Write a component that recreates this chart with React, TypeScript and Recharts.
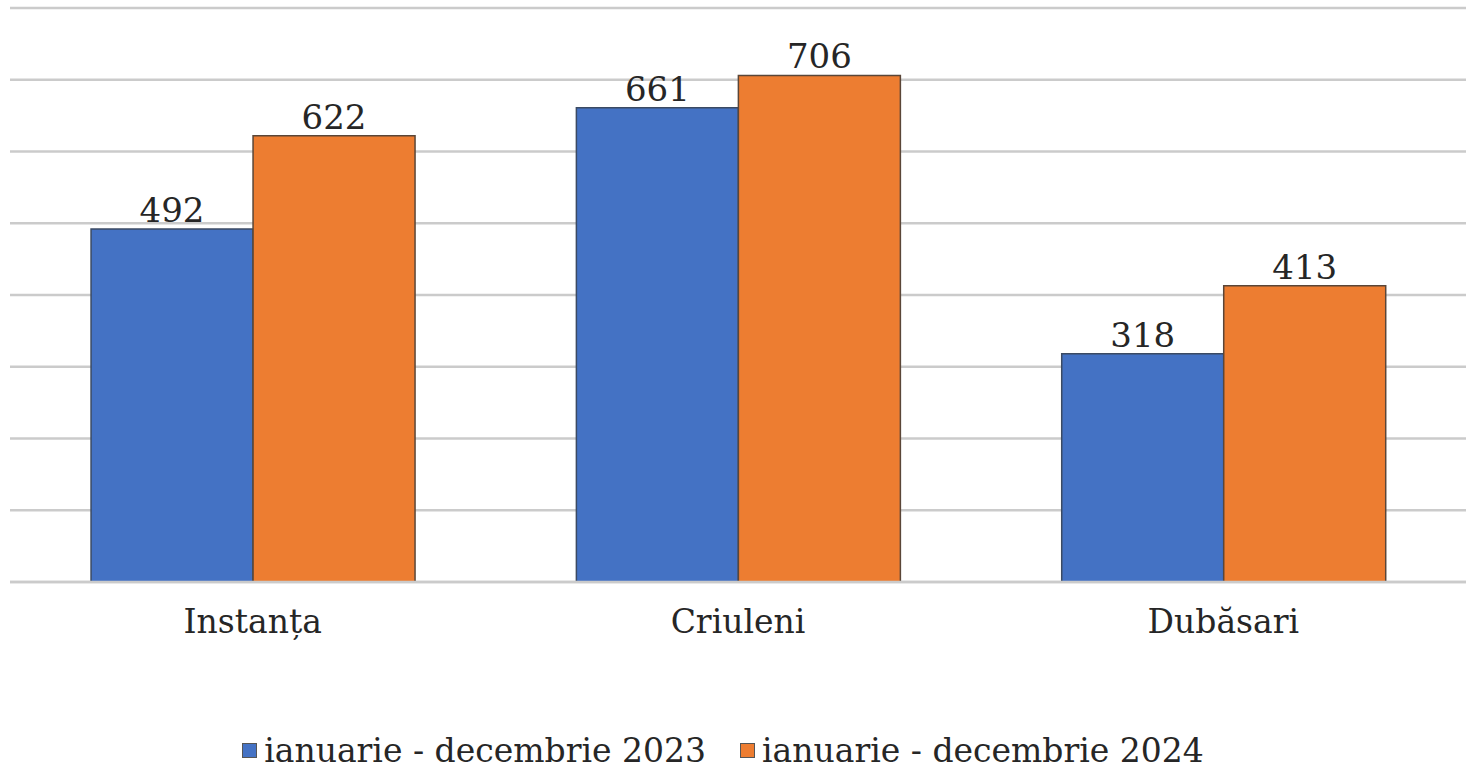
import React from 'react';
import { BarChart, Bar, XAxis, YAxis, CartesianGrid, Legend, LabelList } from 'recharts';

const categories = ['Instanța', 'Criuleni', 'Dubăsari'];
const values2023 = [492, 661, 318];
const values2024 = [622, 706, 413];
const yTicks = [0, 100, 200, 300, 400, 500, 600, 700, 800];

const seriesNames = ['ianuarie - decembrie 2023', 'ianuarie - decembrie 2024'];
const seriesColors = ['#4472C4', '#ED7D31'];

const data = categories.map((name, i) => ({
  name,
  y2023: values2023[i],
  y2024: values2024[i],
}));

const FONT = '"DejaVu Serif", "Liberation Serif", serif';

const LegendContent = () => (
  <div
    style={{
      height: 40,
      display: 'flex',
      justifyContent: 'center',
      alignItems: 'center',
      fontFamily: FONT,
      fontSize: 33,
      color: '#262626',
      gap: 34,
      paddingRight: 30,
    }}
  >
    {seriesNames.map((n, i) => (
      <div key={n} style={{ display: 'flex', alignItems: 'center' }}>
        <span
          style={{
            width: 13,
            height: 13,
            background: seriesColors[i],
            border: '1px solid #555',
            marginRight: 7,
            display: 'inline-block',
          }}
        />
        <span>{n}</span>
      </div>
    ))}
  </div>
);

export default function App() {
  return (
    <div style={{ position: 'absolute', left: 0, top: 0, width: 1474, height: 773, background: '#fff' }}>
      <BarChart
        width={1474}
        height={773}
        data={data}
        margin={{ top: 8, right: 8, left: 10, bottom: 3 }}
        barGap={0}
        barCategoryGap="16.7%"
      >
        <CartesianGrid vertical={false} stroke="#cbcbcb" strokeWidth={2.5} />
        <YAxis hide domain={[0, 800]} ticks={yTicks} />
        <XAxis
          dataKey="name"
          height={148}
          axisLine={{ stroke: '#cbcbcb', strokeWidth: 2.5 }}
          tickLine={false}
          tickMargin={22}
          tick={{ fill: '#262626', fontSize: 33, fontFamily: FONT }}
          interval={0}
        />
        <Legend verticalAlign="bottom" height={40} content={<LegendContent />} />
        <Bar dataKey="y2023" name={seriesNames[0]} fill={seriesColors[0]} stroke="#3b4a63" strokeWidth={1.5} isAnimationActive={false}>
          <LabelList dataKey="y2023" position="top" offset={7} fill="#262626" fontSize={34} fontFamily={FONT} />
        </Bar>
        <Bar dataKey="y2024" name={seriesNames[1]} fill={seriesColors[1]} stroke="#5a4638" strokeWidth={1.5} isAnimationActive={false}>
          <LabelList dataKey="y2024" position="top" offset={7} fill="#262626" fontSize={34} fontFamily={FONT} />
        </Bar>
      </BarChart>
    </div>
  );
}
